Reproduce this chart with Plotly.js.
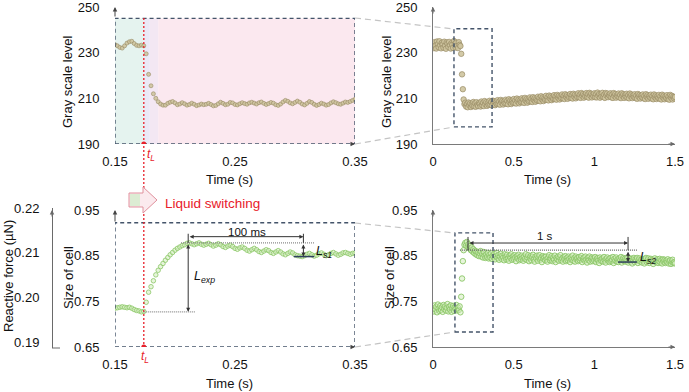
<!DOCTYPE html>
<html>
<head>
<meta charset="utf-8">
<script src="https://cdn.plot.ly/plotly-3.0.1.min.js"></script>
<style>
  html, body { margin: 0; padding: 0; background: #fff; }
  #plotDiv { width: 689px; height: 392px; }
</style>
</head>
<body>
<div id="plotDiv"></div>
<script>
// gray scale level, zoomed window 0.15-0.35 s (2 ms steps)
var gZoom = [
  233.5,233.0,232.3,232.0,233.0,234.2,234.8,235.0,234.0,233.2,
  233.0,233.3,233.0,229.5,220.5,215.5,212.0,210.0,208.5,207.5,
  207.0,207.0,207.8,208.3,208.6,208.0,207.2,207.5,208.1,207.6,
  207.0,207.3,207.9,207.4,206.8,207.1,207.5,207.2,207.4,207.8,
  207.3,206.7,206.9,207.6,208.3,207.8,207.2,207.4,208.2,208.0,
  207.3,207.1,207.6,208.1,207.7,207.4,208.0,208.3,207.9,207.5,
  208.1,208.4,207.8,207.3,207.7,208.2,207.9,207.2,206.9,207.5,
  208.4,209.1,208.7,208.0,207.6,208.2,208.8,208.3,207.5,207.1,
  207.8,208.6,208.2,207.4,206.9,207.3,207.9,207.5,207.0,207.3,
  208.0,208.5,208.1,207.6,207.4,207.9,208.4,208.2,208.6,209.1,
  209.6
];
// size of cell, zoomed window 0.15-0.35 s
var sZoom = [
  0.735,0.736,0.737,0.738,0.737,0.736,0.737,0.735,0.732,0.730,
  0.729,0.727,0.728,0.748,0.770,0.782,0.795,0.808,0.818,0.826,
  0.833,0.840,0.846,0.852,0.857,0.862,0.866,0.869,0.872,0.874,
  0.877,0.878,0.876,0.874,0.876,0.878,0.875,0.873,0.875,0.877,
  0.874,0.871,0.873,0.876,0.874,0.870,0.868,0.871,0.873,0.870,
  0.866,0.864,0.867,0.869,0.866,0.862,0.860,0.863,0.866,0.863,
  0.859,0.857,0.860,0.863,0.861,0.857,0.855,0.858,0.861,0.858,
  0.854,0.852,0.855,0.858,0.856,0.852,0.850,0.849,0.848,0.850,
  0.853,0.855,0.852,0.849,0.851,0.854,0.856,0.853,0.850,0.852,
  0.855,0.857,0.854,0.851,0.853,0.856,0.857,0.855,0.853,0.855,
  0.856
];
// gray scale level, full record 0-1.5 s (5 ms steps)
var gFull = [
  233.5,232.0,234.6,233.1,231.8,234.9,233.7,232.4,235.0,233.2,
  231.9,234.3,233.6,232.2,234.8,233.0,231.7,234.5,233.9,232.5,
  234.7,233.3,231.8,234.2,233.5,232.1,235.1,233.8,232.3,234.4,
  233.0,232.0,234.6,233.4,232.9,229.5,220.5,214.0,209.5,207.5,
  208.1,206.4,207.5,206.1,208.2,207.0,207.8,206.2,207.4,206.7,
  208.4,206.5,207.9,206.3,208.3,207.1,206.6,208.0,207.5,206.4,
  208.6,206.9,208.0,206.6,208.8,207.4,208.3,206.7,207.9,207.1,
  208.9,207.1,208.4,206.9,209.0,207.7,208.6,207.0,208.2,207.5,
  209.2,207.5,208.6,207.2,209.3,208.1,208.9,207.3,208.5,207.8,
  209.4,207.7,208.9,207.4,209.6,208.3,209.1,207.5,208.8,208.0,
  209.7,208.0,209.1,207.7,209.9,208.6,209.4,207.8,209.0,208.3,
  210.0,208.3,209.5,208.0,210.2,208.9,209.7,208.1,209.3,208.6,
  210.4,208.7,209.8,208.4,210.5,209.3,210.1,208.5,209.7,209.0,
  210.7,209.0,210.2,208.7,210.9,209.6,210.4,208.8,210.0,209.3,
  211.1,209.4,210.5,209.1,211.2,210.0,210.8,209.2,210.4,209.7,
  211.4,209.7,210.9,209.4,211.5,210.3,211.1,209.5,210.7,210.0,
  211.7,210.0,211.1,209.7,211.8,210.6,211.4,209.8,211.0,210.3,
  211.9,210.2,211.4,209.9,212.0,210.8,211.6,210.0,211.2,210.5,
  212.2,210.5,211.6,210.2,212.3,211.1,211.9,210.3,211.5,210.8,
  212.3,210.6,211.8,210.3,212.4,211.2,212.0,210.4,211.6,210.9,
  212.2,210.5,211.8,210.4,212.5,211.1,211.9,210.3,211.7,210.8,
  212.4,210.6,211.6,210.2,212.3,211.3,212.1,210.5,211.5,211.0,
  212.2,210.4,211.7,210.2,212.3,211.0,211.9,210.3,211.4,210.8,
  212.1,210.4,211.5,210.1,212.2,211.0,211.8,210.2,211.4,210.7,
  212.0,210.3,211.4,210.0,212.1,210.9,211.7,210.1,211.3,210.6,
  211.8,210.1,211.2,209.8,211.9,210.7,211.5,209.9,211.1,210.4,
  211.7,210.0,211.1,209.7,211.8,210.6,211.4,209.8,211.0,210.3,
  211.6,209.9,211.0,209.6,211.7,210.5,211.3,209.7,210.9,210.2,
  211.5,209.8,210.9,209.5,211.6,210.4,211.2,209.6,210.8,210.1,
  211.4,209.7,210.8,209.4,211.5,210.3,211.1,209.5,210.7,210.0,210.6
];
// size of cell, full record 0-1.5 s
var sFull = [
  0.735,0.728,0.741,0.732,0.738,0.726,0.743,0.734,0.729,0.740,
  0.731,0.737,0.727,0.742,0.733,0.739,0.730,0.736,0.744,0.728,
  0.738,0.732,0.741,0.727,0.735,0.740,0.729,0.737,0.733,0.742,
  0.730,0.736,0.731,0.739,0.726,0.760,0.800,0.838,0.862,0.874,
  0.878,0.872,0.880,0.869,0.875,0.866,0.871,0.862,0.868,0.859,
  0.864,0.856,0.861,0.853,0.859,0.851,0.857,0.849,0.855,0.860,
  0.848,0.854,0.846,0.858,0.850,0.845,0.853,0.847,0.856,0.844,
  0.852,0.846,0.855,0.843,0.850,0.847,0.854,0.842,0.849,0.856,
  0.845,0.851,0.841,0.848,0.854,0.843,0.850,0.846,0.840,0.853,
  0.847,0.842,0.852,0.844,0.839,0.850,0.845,0.853,0.841,0.848,
  0.843,0.851,0.846,0.838,0.849,0.844,0.852,0.840,0.847,0.842,
  0.850,0.845,0.839,0.848,0.843,0.853,0.841,0.846,0.851,0.838,
  0.845,0.849,0.840,0.847,0.852,0.842,0.837,0.848,0.844,0.850,
  0.839,0.846,0.851,0.841,0.845,0.836,0.849,0.843,0.847,0.840,
  0.848,0.842,0.837,0.846,0.851,0.840,0.844,0.849,0.838,0.845,
  0.841,0.850,0.836,0.845,0.842,0.848,0.839,0.846,0.851,0.840,
  0.844,0.837,0.847,0.842,0.849,0.838,0.845,0.840,0.848,0.843,
  0.836,0.846,0.841,0.850,0.839,0.844,0.837,0.848,0.842,0.845,
  0.838,0.847,0.840,0.844,0.849,0.836,0.843,0.846,0.839,0.848,
  0.841,0.835,0.845,0.840,0.848,0.837,0.843,0.846,0.838,0.844,
  0.839,0.847,0.836,0.842,0.845,0.840,0.834,0.846,0.841,0.838,
  0.844,0.837,0.847,0.840,0.835,0.843,0.846,0.839,0.842,0.836,
  0.845,0.838,0.841,0.847,0.834,0.843,0.839,0.846,0.837,0.842,
  0.836,0.844,0.840,0.847,0.835,0.841,0.845,0.838,0.843,0.837,
  0.842,0.846,0.835,0.840,0.844,0.837,0.843,0.833,0.841,0.845,
  0.836,0.842,0.839,0.845,0.834,0.840,0.844,0.837,0.841,0.835,
  0.843,0.838,0.833,0.842,0.845,0.836,0.840,0.844,0.834,0.839,
  0.843,0.837,0.841,0.832,0.840,0.844,0.836,0.839,0.842,0.834,
  0.838,0.843,0.835,0.840,0.833,0.842,0.837,0.841,0.834,0.839,
  0.836,0.842,0.833,0.838,0.840,0.832,0.837,0.841,0.834,0.836,0.833
];

var zoomStart = 0.15, zoomStep = 0.002, fullStep = 0.005;
var tZoom = gZoom.map(function(_, i) { return +(zoomStart + i*zoomStep).toFixed(3); });
var tFull = gFull.map(function(_, i) { return +(i*fullStep).toFixed(3); });

// tick labels
var xTicksZoom = [0.15, 0.25, 0.35];
var xTicksFull = [0, 0.5, 1, 1.5];
var grayTicks = [190, 210, 230, 250];
var sizeTicks = [0.65, 0.75, 0.85, 0.95];
var forceTicks = [0.19, 0.20, 0.21, 0.22];
var forceLabels = ['0.19', '0.20', '0.21', '0.22'];

// markers
var tL = 0.174;
var peakT = 0.211, peakS = 0.878, baseS = 0.727, endT1 = 0.307, lowS1 = 0.848;
var startT2 = 0.217, endT2 = 1.209, topS2 = 0.862, lowS2 = 0.836;

var W = 689, H = 392;
function px(x) { return x / W; }
function py(y) { return 1 - y / H; }

var FONT = 'Liberation Sans, Arial, sans-serif';
var graySmall = { size: 4, color: 'rgba(206,196,158,0.9)', line: { color: 'rgba(150,137,98,0.85)', width: 0.7 } };
var grayBig = { size: 5.5, color: 'rgba(206,196,158,0.9)', line: { color: 'rgba(150,137,98,0.85)', width: 0.8 } };
var greenSmall = { size: 4.5, color: 'rgba(212,236,190,0.55)', line: { color: 'rgba(140,199,104,0.9)', width: 0.9 } };
var greenBig = { size: 5.5, color: 'rgba(212,236,190,0.55)', line: { color: 'rgba(140,199,104,0.9)', width: 1 } };

var data = [
  { x: tZoom, y: gZoom, xaxis: 'x', yaxis: 'y', type: 'scatter', mode: 'markers', marker: graySmall, hoverinfo: 'skip' },
  { x: tFull, y: gFull, xaxis: 'x2', yaxis: 'y2', type: 'scatter', mode: 'markers', marker: grayBig, hoverinfo: 'skip' },
  { x: tZoom, y: sZoom, xaxis: 'x3', yaxis: 'y3', type: 'scatter', mode: 'markers', marker: greenSmall, hoverinfo: 'skip' },
  { x: tFull, y: sFull, xaxis: 'x4', yaxis: 'y4', type: 'scatter', mode: 'markers', marker: greenBig, hoverinfo: 'skip' },
  { x: [0.15], y: [0.2], xaxis: 'x3', yaxis: 'y5', type: 'scatter', mode: 'markers', marker: { opacity: 0 }, hoverinfo: 'skip' }
];

function xAx(dom, range, ticks, anchor, line) {
  return { domain: dom, range: range, tickvals: ticks, anchor: anchor, showgrid: false, zeroline: false,
    showline: line, linecolor: '#7a7a7a', linewidth: 1, ticks: 'outside', ticklen: 5, tickcolor: 'rgba(0,0,0,0)',
    tickfont: { family: FONT, size: 13, color: '#111' }, automargin: false, fixedrange: true, ticklabeloverflow: 'allow' };
}
function yAx(dom, range, ticks, anchor, line) {
  return { domain: dom, range: range, tickvals: ticks, anchor: anchor, showgrid: false, zeroline: false,
    showline: line, linecolor: '#7a7a7a', linewidth: 1, ticks: 'outside', ticklen: 12, tickcolor: 'rgba(0,0,0,0)',
    tickfont: { family: FONT, size: 13, color: '#111' }, automargin: false, fixedrange: true, ticklabeloverflow: 'allow' };
}

var xL = [px(115), px(355)], xR = [px(433), px(675)];
var yT = [py(144), py(7)], yB = [py(347), py(210)];

var layout = {
  width: W, height: H,
  margin: { l: 0, r: 0, t: 0, b: 0 },
  paper_bgcolor: '#fff', plot_bgcolor: 'rgba(0,0,0,0)',
  showlegend: false,
  font: { family: FONT, size: 13, color: '#111' },
  xaxis: xAx(xL, [0.15, 0.35], xTicksZoom, 'y', false),
  yaxis: yAx(yT, [190, 250], grayTicks, 'x', false),
  xaxis2: xAx(xR, [0, 1.5], xTicksFull, 'y2', true),
  yaxis2: yAx(yT, [190, 250], grayTicks, 'x2', true),
  xaxis3: xAx(xL, [0.15, 0.35], xTicksZoom, 'y3', false),
  yaxis3: yAx(yB, [0.65, 0.95], sizeTicks, 'x3', false),
  xaxis4: xAx(xR, [0, 1.5], xTicksFull, 'y4', true),
  yaxis4: yAx(yB, [0.65, 0.95], sizeTicks, 'x4', true),
  yaxis5: { domain: [py(348), py(208)], range: [0.18866, 0.22], anchor: 'free', position: px(52), side: 'left',
    tickvals: forceTicks, ticktext: forceLabels, showgrid: false, zeroline: false, showline: true,
    linecolor: '#6a6a6a', linewidth: 1, ticks: 'outside', ticklen: 10, tickcolor: 'rgba(0,0,0,0)',
    tickfont: { family: FONT, size: 13, color: '#111' }, automargin: false, fixedrange: true, ticklabeloverflow: 'allow' },
  shapes: [],
  annotations: []
};

var S = layout.shapes, A = layout.annotations;
var boxLine = { color: '#44546a', width: 1.4, dash: '4px,3px' };
var linkLine = { color: '#c4c4c4', width: 1.2, dash: '6px,4px' };

// shaded background of the zoom window
S.push({ type: 'rect', xref: 'x', yref: 'y', x0: 0.15, x1: tL, y0: 190, y1: 245, fillcolor: '#e5f3ef', line: { width: 0 }, layer: 'below' });
S.push({ type: 'rect', xref: 'x', yref: 'y', x0: tL, x1: 0.179, y0: 190, y1: 245, fillcolor: '#ebe9f7', line: { width: 0 }, layer: 'below' });
S.push({ type: 'rect', xref: 'x', yref: 'y', x0: 0.179, x1: 0.186, y0: 190, y1: 245, fillcolor: '#f3e7f3', line: { width: 0 }, layer: 'below' });
S.push({ type: 'rect', xref: 'x', yref: 'y', x0: 0.186, x1: 0.35, y0: 190, y1: 245, fillcolor: '#fbe8ef', line: { width: 0 }, layer: 'below' });

// dashed boxes
S.push({ type: 'rect', xref: 'x', yref: 'y', x0: 0.15, x1: 0.35, y0: 190, y1: 245, line: boxLine });
S.push({ type: 'rect', xref: 'x3', yref: 'y3', x0: 0.15, x1: 0.35, y0: 0.65, y1: 0.922, line: boxLine });
S.push({ type: 'rect', xref: 'x2', yref: 'y2', x0: 0.13, x1: 0.366, y0: 197.5, y1: 240.5, line: boxLine });
S.push({ type: 'rect', xref: 'x4', yref: 'y4', x0: 0.136, x1: 0.372, y0: 0.683, y1: 0.9, line: boxLine });

// zoom link lines
[[355, 18, 454, 29], [355, 144, 454, 127], [355, 223, 455, 233], [355, 347, 455, 332]].forEach(function(p) {
  S.push({ type: 'line', xref: 'paper', yref: 'paper', x0: px(p[0]), y0: py(p[1]), x1: px(p[2]), y1: py(p[3]), line: linkLine });
});

// t_L red dotted line
S.push({ type: 'line', xref: 'x', yref: 'paper', x0: tL, x1: tL, y0: py(18), y1: py(347), line: { color: '#e8202a', width: 1.3, dash: '2px,2px' } });
S.push({ type: 'circle', xref: 'x', yref: 'y', xsizemode: 'pixel', ysizemode: 'pixel', xanchor: tL, yanchor: 190, x0: -2.5, x1: 2.5, y0: -2.5, y1: 2.5, fillcolor: '#e8202a', line: { width: 0 } });
S.push({ type: 'circle', xref: 'x3', yref: 'y3', xsizemode: 'pixel', ysizemode: 'pixel', xanchor: tL, yanchor: 0.65, x0: -2.5, x1: 2.5, y0: -2.5, y1: 2.5, fillcolor: '#e8202a', line: { width: 0 } });

// liquid switching block arrow
function pathPx(pts) {
  return 'M' + pts.map(function(p) { return px(p[0]).toFixed(5) + ',' + py(p[1]).toFixed(5); }).join(' L') + ' Z';
}
S.push({ type: 'path', xref: 'paper', yref: 'paper', layer: 'above',
  path: pathPx([[129, 193], [143, 193], [143, 187], [157, 200], [143, 213], [143, 207], [129, 207]]),
  fillcolor: '#fbeaee', line: { color: '#e0909c', width: 1 } });
S.push({ type: 'rect', xref: 'paper', yref: 'paper', x0: px(130), x1: px(140), y0: py(206), y1: py(194),
  fillcolor: '#dcecd3', line: { width: 0 } });

// bottom-left measurement guides
var dark = '#333';
S.push({ type: 'line', xref: 'x3', yref: 'y3', x0: 0.205, x1: 0.316, y0: peakS, y1: peakS, line: { color: '#8a8a8a', width: 1.2, dash: '1px,1px' } });
S.push({ type: 'line', xref: 'x3', yref: 'y3', x0: tL, x1: 0.217, y0: baseS, y1: baseS, line: { color: '#8a8a8a', width: 1.2, dash: '1px,1px' } });
S.push({ type: 'line', xref: 'x3', yref: 'y3', x0: peakT, x1: peakT, y0: 0.898, y1: peakS, line: { color: dark, width: 1 } });
S.push({ type: 'line', xref: 'x3', yref: 'y3', x0: endT1, x1: endT1, y0: 0.898, y1: peakS, line: { color: dark, width: 1 } });
S.push({ type: 'line', xref: 'x3', yref: 'y3', x0: 0.299, x1: 0.316, y0: lowS1, y1: lowS1, line: { color: '#2f3f5f', width: 1.5 } });

// bottom-right measurement guides
S.push({ type: 'line', xref: 'x4', yref: 'y4', x0: 0.167, x1: 1.264, y0: topS2, y1: topS2, line: { color: '#6a6a6a', width: 1.2, dash: '1px,1px' } });
S.push({ type: 'line', xref: 'x4', yref: 'y4', x0: startT2, x1: startT2, y0: 0.891, y1: topS2, line: { color: dark, width: 1 } });
S.push({ type: 'line', xref: 'x4', yref: 'y4', x0: endT2, x1: endT2, y0: 0.891, y1: topS2, line: { color: dark, width: 1 } });
S.push({ type: 'line', xref: 'x4', yref: 'y4', x0: 1.147, x1: 1.264, y0: lowS2, y1: lowS2, line: { color: '#2f3f5f', width: 1.5 } });

// reactive force axis foot
S.push({ type: 'line', xref: 'paper', yref: 'paper', x0: px(52), x1: px(60), y0: py(348), y1: py(348), line: { color: '#6a6a6a', width: 1 } });

// double arrows
function dbl(xa, ya, x0, y0, x1, y1) {
  A.push({ xref: xa, yref: ya, axref: xa, ayref: ya, x: x1, y: y1, ax: x0, ay: y0, text: '', showarrow: true,
    arrowside: 'end+start', arrowhead: 2, startarrowhead: 2, arrowsize: 0.8, startarrowsize: 0.8, arrowwidth: 1, arrowcolor: dark,
    standoff: 0, startstandoff: 0 });
}
dbl('x3', 'y3', peakT, 0.8916, endT1, 0.8916);
dbl('x3', 'y3', peakT, peakS, peakT, baseS);
dbl('x3', 'y3', endT1, peakS, endT1, lowS1);
dbl('x4', 'y4', startT2, 0.8777, endT2, 0.8777);
dbl('x4', 'y4', endT2, topS2, endT2, lowS2);

// axis arrow heads
function axArrow(xa, ya, x, y, ax, ay, col) {
  A.push({ xref: xa, yref: ya, x: x, y: y, ax: ax, ay: ay, text: '', showarrow: true, arrowhead: 2, arrowsize: 0.9,
    arrowwidth: 1, arrowcolor: col || '#444', standoff: 0 });
}
axArrow('x', 'y', 0.15, 250, 0, 11);
axArrow('x', 'y', 0.35, 190, -6, 0);
axArrow('x3', 'y3', 0.15, 0.95, 0, 13);
axArrow('x3', 'y3', 0.35, 0.65, -6, 0);
axArrow('x2', 'y2', 0, 250, 0, 8, '#6a6a6a');
axArrow('x2', 'y2', 1.5, 190, -8, 0, '#6a6a6a');
axArrow('x4', 'y4', 0, 0.95, 0, 8, '#6a6a6a');
axArrow('x4', 'y4', 1.5, 0.65, -8, 0, '#6a6a6a');
axArrow('paper', 'paper', px(52), py(210), 0, 8, '#6a6a6a');

// texts (anchors set explicitly: paper 'auto' anchoring shifts them)
function txt(xa, ya, x, y, s, opts) {
  var a = { xref: xa, yref: ya, x: x, y: y, text: s, showarrow: false, xanchor: 'center', yanchor: 'middle',
    font: { family: FONT, size: 13, color: '#111' } };
  for (var k in opts) a[k] = opts[k];
  A.push(a);
}
var P = 'paper';
txt(P, P, px(68), py(82), 'Gray scale level', { textangle: -90 });
txt(P, P, px(387), py(82), 'Gray scale level', { textangle: -90 });
txt(P, P, px(68), py(278), 'Size of cell', { textangle: -90 });
txt(P, P, px(389), py(278), 'Size of cell', { textangle: -90 });
txt(P, P, px(8), py(276), 'Reactive force (µN)', { textangle: -90 });
txt(P, P, px(229), py(180), 'Time (s)');
txt(P, P, px(547), py(180), 'Time (s)');
txt(P, P, px(229), py(383), 'Time (s)');
txt(P, P, px(547), py(383), 'Time (s)');
txt(P, P, px(163), py(203), 'Liquid switching', { xanchor: 'left', font: { family: FONT, size: 13.5, color: '#e8202a' } });
txt(P, P, px(151), py(155), '<i>t</i><sub><i>L</i></sub>', { font: { family: FONT, size: 12, color: '#e8202a' } });
txt(P, P, px(145), py(357), '<i>t</i><sub><i>L</i></sub>', { font: { family: FONT, size: 12, color: '#e8202a' } });
txt('x3', 'y3', 0.2604, 0.9025, '100 ms', { font: { family: FONT, size: 11.5, color: '#111' } });
txt('x3', 'y3', 0.214, 0.803, '<i>L</i><sub><i>exp</i></sub>', { xanchor: 'left', font: { family: FONT, size: 12.5, color: '#111' } });
txt('x3', 'y3', 0.316, 0.858, '<i>L</i><sub><i>s1</i></sub>', { xanchor: 'left', font: { family: FONT, size: 12.5, color: '#111' } });
txt('x4', 'y4', 0.694, 0.8935, '1 s', { font: { family: FONT, size: 11.5, color: '#111' } });
txt('x4', 'y4', 1.268, 0.845, '<i>L</i><sub><i>s2</i></sub>', { xanchor: 'left', font: { family: FONT, size: 12.5, color: '#111' } });

Plotly.newPlot('plotDiv', data, layout, { staticPlot: true, displayModeBar: false });
</script>
</body>
</html>
